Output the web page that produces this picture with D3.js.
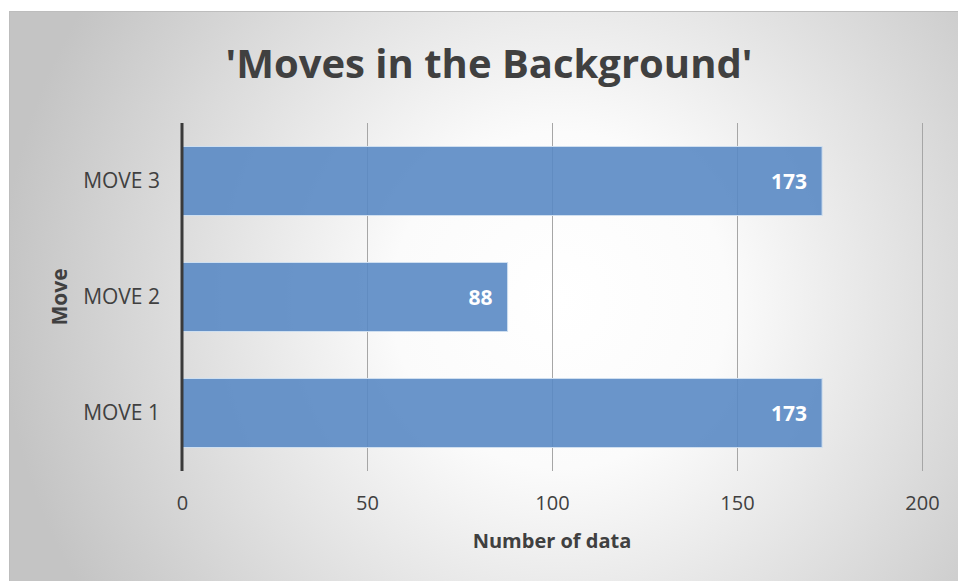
<!DOCTYPE html>
<html>
<head>
<meta charset="utf-8">
<script src="https://cdn.jsdelivr.net/npm/d3@7"></script>
<style>
  html, body { margin: 0; padding: 0; background: #ffffff; }
  svg { display: block; }
</style>
</head>
<body>
<svg id="chart" width="958" height="581"></svg>
<script>
// Chart data
const categories = ["MOVE 1", "MOVE 2", "MOVE 3"];
const counts = [173, 88, 173];
const xTicks = [0, 50, 100, 150, 200];
const titleText = "'Moves in the Background'";
const xTitle = "Number of data";
const yTitle = "Move";

const W = 958, H = 581;
const svg = d3.select("#chart");
const font = "'Open Sans', 'Liberation Sans', sans-serif";

// Radial grey-to-white chart background
const defs = svg.append("defs");
const grad = defs.append("radialGradient")
  .attr("id", "bg")
  .attr("gradientUnits", "userSpaceOnUse")
  .attr("cx", 560).attr("cy", 300).attr("r", 560);
grad.append("stop").attr("offset", "0%").attr("stop-color", "#ffffff");
grad.append("stop").attr("offset", "30%").attr("stop-color", "#fbfbfb");
grad.append("stop").attr("offset", "100%").attr("stop-color", "#c4c4c4");

svg.append("rect")
  .attr("x", 9.5).attr("y", 11.5)
  .attr("width", W).attr("height", H)
  .attr("fill", "url(#bg)")
  .attr("stroke", "#bdbdbd").attr("stroke-width", 1);

const plot = { left: 182, right: 922, top: 123, bottom: 471 };

const x = d3.scaleLinear().domain([0, 200]).range([plot.left, plot.right]);
const y = d3.scaleBand()
  .domain(categories.slice().reverse())
  .range([plot.top, plot.bottom])
  .paddingInner(0.405).paddingOuter(0.2025);

// Vertical gridlines
svg.append("g")
  .selectAll("line")
  .data(xTicks.filter(t => t > 0))
  .join("line")
  .attr("x1", d => x(d) + 0.5).attr("x2", d => x(d) + 0.5)
  .attr("y1", plot.top).attr("y2", plot.bottom)
  .attr("stroke", "#a6a6a6").attr("stroke-width", 1);

// Bars
svg.append("g")
  .selectAll("rect")
  .data(categories)
  .join("rect")
  .attr("x", x(0))
  .attr("y", d => y(d))
  .attr("width", (d, i) => x(counts[i]) - x(0))
  .attr("height", y.bandwidth())
  .attr("fill", "#5a8ac4")
  .attr("fill-opacity", 0.9)
  .attr("stroke", "#cfdff0")
  .attr("stroke-width", 1);

// Value labels inside bar ends
svg.append("g")
  .selectAll("text")
  .data(categories)
  .join("text")
  .attr("x", (d, i) => x(counts[i]) - 15)
  .attr("y", d => y(d) + y.bandwidth() / 2)
  .attr("dy", "0.36em")
  .attr("text-anchor", "end")
  .attr("font-family", font)
  .attr("font-weight", "bold")
  .attr("font-size", 21)
  .attr("fill", "#ffffff")
  .text((d, i) => counts[i]);

// Category axis line
svg.append("line")
  .attr("x1", plot.left).attr("x2", plot.left)
  .attr("y1", plot.top).attr("y2", plot.bottom)
  .attr("stroke", "#3a3a3a").attr("stroke-width", 3);

// Category labels
const yAxis = svg.append("g")
  .attr("transform", `translate(${plot.left - 22},0)`)
  .call(d3.axisLeft(y).tickSize(0).tickPadding(0));
yAxis.select(".domain").remove();
yAxis.selectAll("text")
  .attr("font-family", font)
  .attr("font-size", 21)
  .attr("fill", "#404040");

// Value axis labels
const xAxis = svg.append("g")
  .attr("transform", `translate(0,${plot.bottom + 25})`)
  .call(d3.axisBottom(x).tickValues(xTicks).tickSize(0).tickPadding(0));
xAxis.select(".domain").remove();
xAxis.selectAll("text")
  .attr("font-family", font)
  .attr("font-size", 20)
  .attr("fill", "#404040");

// Title
svg.append("text")
  .attr("x", (plot.left + plot.right) / 2 - 63)
  .attr("y", 78)
  .attr("text-anchor", "middle")
  .attr("font-family", font)
  .attr("font-weight", "bold")
  .attr("font-size", 40)
  .attr("fill", "#404040")
  .text(titleText);

// Axis titles
svg.append("text")
  .attr("x", x(100))
  .attr("y", 548)
  .attr("text-anchor", "middle")
  .attr("font-family", font)
  .attr("font-weight", "bold")
  .attr("font-size", 20)
  .attr("fill", "#404040")
  .text(xTitle);

svg.append("text")
  .attr("transform", `translate(67,${(plot.top + plot.bottom) / 2}) rotate(-90)`)
  .attr("text-anchor", "middle")
  .attr("font-family", font)
  .attr("font-weight", "bold")
  .attr("font-size", 21)
  .attr("fill", "#404040")
  .text(yTitle);
</script>
</body>
</html>
